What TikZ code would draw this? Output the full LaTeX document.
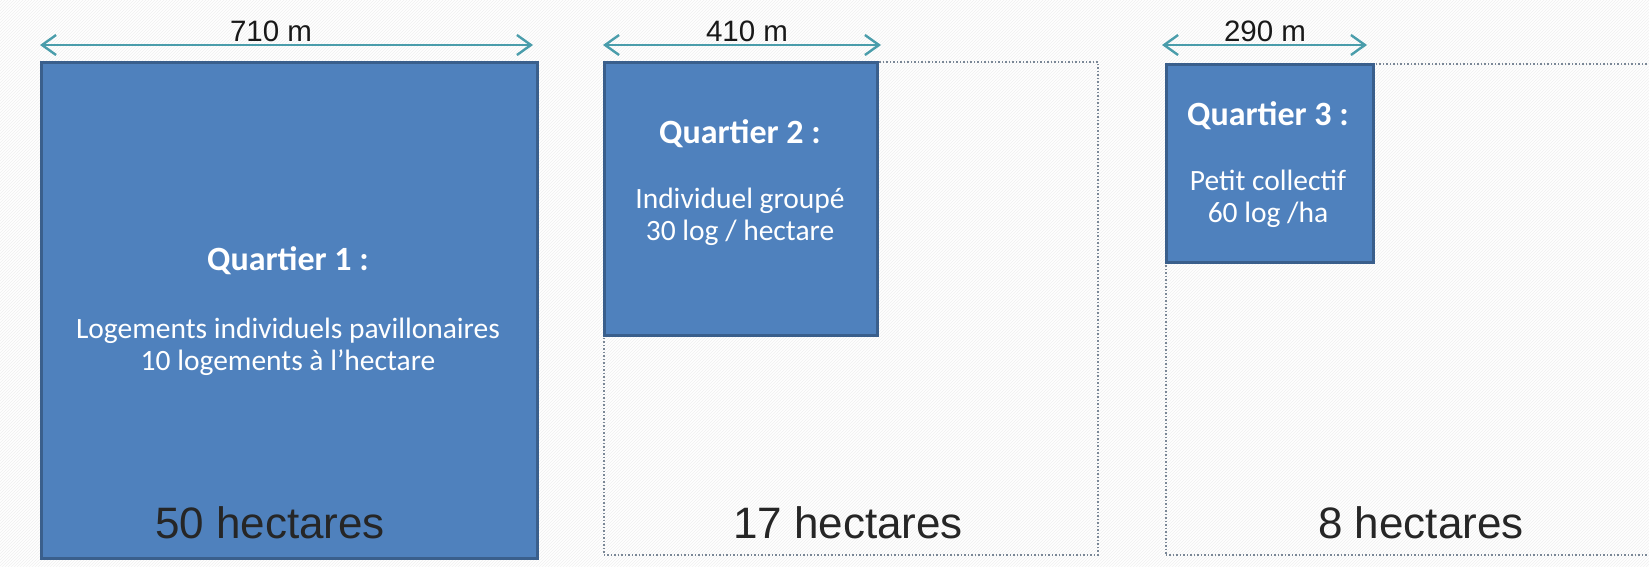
\documentclass[tikz,border=0pt]{standalone}
\usepackage{fontspec}
\setmainfont{Carlito}
\newfontfamily\arialfont{Liberation Sans}
\usetikzlibrary{arrows.meta,patterns}
\definecolor{fillblue}{HTML}{4F81BD}
\definecolor{borderblue}{HTML}{3A5F8C}
\definecolor{arrowteal}{HTML}{4A9DAB}
\definecolor{plotgray}{HTML}{7A8796}
\begin{document}
\begin{tikzpicture}[x=1pt, y=-1pt]
\tikzstyle{bluebox}=[draw=borderblue, line width=2.5pt, fill=fillblue, anchor=north west, inner sep=0pt]
\tikzstyle{plotbox}=[draw=plotgray, dotted, line width=1.5pt, anchor=north west, inner sep=0pt]
\tikzstyle{dimarrow}=[draw=arrowteal, line width=2.4pt, {Straight Barb[length=14pt,width=20pt]}-{Straight Barb[length=14pt,width=20pt]}]
\tikzstyle{titletext}=[font=\bfseries\fontsize{34}{38}\selectfont, text=white]
\tikzstyle{bodytext}=[font=\fontsize{29.5}{32}\selectfont, text=white, align=center]
\tikzstyle{areatext}=[font=\arialfont\fontsize{44}{50}\selectfont, text=black!85]
\tikzstyle{dimlabel}=[font=\arialfont\fontsize{29.5}{34}\selectfont, text=black!90, anchor=base, inner sep=0pt]
\useasboundingbox (0,0) rectangle (1649,566);
\fill[white] (0,0) rectangle (1649,566);
\fill[pattern=north east lines, pattern color=gray!12] (0,0) rectangle (1649,566);
\path (603,61) node[plotbox, minimum width=494pt, minimum height=493pt] (plot2) {};
\path (1165,63) node[plotbox, minimum width=520pt, minimum height=491pt] (plot3) {};
\path (40,61) node[bluebox, minimum width=496pt, minimum height=496pt] (q1) {};
\path (603,61) node[bluebox, minimum width=273pt, minimum height=273pt] (q2) {};
\path (1165,63) node[bluebox, minimum width=207pt, minimum height=198pt] (q3) {};
\path (288,261) node[titletext] (t1) {Quartier 1 :};
\path (288,347) node[bodytext] (b1) {Logements individuels pavillonaires\\10 logements à l’hectare};
\path (740,134) node[titletext] (t2) {Quartier 2 :};
\path (740,217) node[bodytext] (b2) {Individuel groupé\\30 log / hectare};
\path (1268,116) node[titletext] (t3) {Quartier 3 :};
\path (1268,199) node[bodytext] (b3) {Petit collectif\\60 log /ha};
\path (270,523) node[areatext] (s1) {50 hectares};
\path (848,523) node[areatext] (s2) {17 hectares};
\path (1421,523) node[areatext] (s3) {8 hectares};
\coordinate (l1) at (40,45);
\coordinate (r1) at (533,45);
\coordinate (l2) at (603,45);
\coordinate (r2) at (881,45);
\coordinate (l3) at (1162,45);
\coordinate (r3) at (1367,45);
\draw[dimarrow] (l1) -- (r1);
\draw[dimarrow] (l2) -- (r2);
\draw[dimarrow] (l3) -- (r3);
\path (271,41) node[dimlabel] (d1) {710 m};
\path (747,41) node[dimlabel] (d2) {410 m};
\path (1265,41) node[dimlabel] (d3) {290 m};
\end{tikzpicture}
\end{document}
